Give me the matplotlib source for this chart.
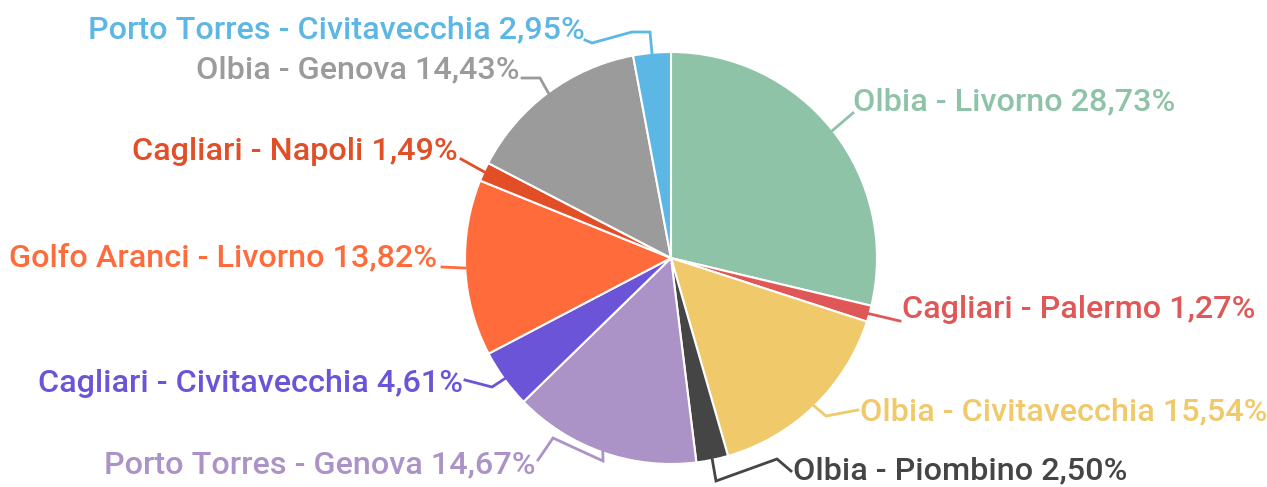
import matplotlib
matplotlib.use("Agg")
import matplotlib.pyplot as plt
import numpy as np

routes = [
    "Olbia - Livorno", "Cagliari - Palermo", "Olbia - Civitavecchia",
    "Olbia - Piombino", "Porto Torres - Genova", "Cagliari - Civitavecchia",
    "Golfo Aranci - Livorno", "Cagliari - Napoli", "Olbia - Genova",
    "Porto Torres - Civitavecchia",
]
shares = [28.73, 1.27, 15.54, 2.50, 14.67, 4.61, 13.82, 1.49, 14.43, 2.95]
colors = ["#8EC3A7", "#E05757", "#F0C96A", "#454545", "#AB93C7",
          "#6C54D8", "#FF6B3A", "#E24E26", "#9B9B9B", "#5DB7E5"]

W, H = 1267, 487
fig = plt.figure(figsize=(W / 100, H / 100), dpi=100)
ax = fig.add_axes([0, 0, 1, 1])

cx, cy, R = 671, 258, 206

# y axis points down, so counterclock=True draws clockwise on screen
wedges, _ = ax.pie(shares, colors=colors, startangle=-90, counterclock=True,
                   center=(cx, cy), radius=R, frame=True,
                   wedgeprops=dict(edgecolor="white", linewidth=1.5))
ax.set_xlim(0, W)
ax.set_ylim(H, 0)
ax.set_aspect("equal")
ax.axis("off")

# label anchor (text x, text y, alignment) and leader knee points
layout = [
    ((853, 102, "left"), [(853, 113)]),
    ((902, 309, "left"), [(900, 321)]),
    ((860, 412, "left"), [(826, 416), (858, 410)]),
    ((793, 471, "left"), [(716, 481), (777, 459), (791, 471)]),
    ((536, 465, "right"), [(603, 461), (553, 438), (538, 460)]),
    ((463, 383, "right"), [(492, 387), (465, 380)]),
    ((437, 258, "right"), [(442, 267)]),
    ((458, 151, "right"), [(461, 159)]),
    ((520, 70, "right"), [(540, 78), (522, 78)]),
    ((585, 30, "right"), [(650, 32), (632, 32), (592, 43), (585, 40)]),
]

total = sum(shares)
start = 0.0
for name, val, col, ((tx, ty, ha), knees) in zip(routes, shares, colors, layout):
    mid = (start + val / 2) / total * 2 * np.pi
    start += val
    ex = cx + R * np.sin(mid)
    ey = cy - R * np.cos(mid)
    pts = [(ex, ey)] + knees
    xs, ys = zip(*pts)
    ax.plot(xs, ys, color=col, lw=2, solid_joinstyle="miter")
    label = f"{name} {val:.2f}%".replace(".", ",")
    ax.text(tx, ty, label, color=col, ha=ha, va="center",
            fontsize=23.3, fontfamily="Roboto", fontweight="medium")

fig.savefig("out.png", dpi=100)
